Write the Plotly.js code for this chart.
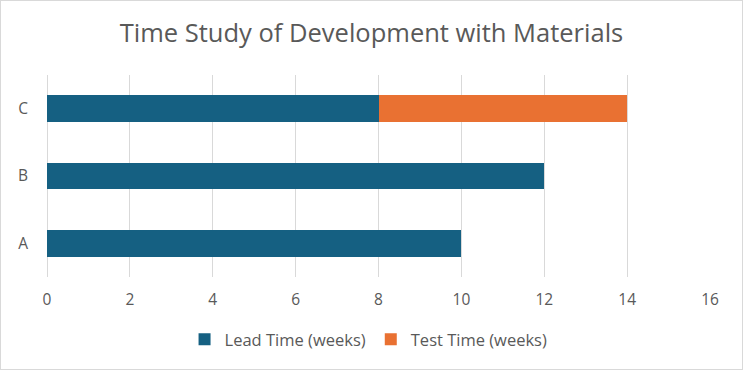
<!DOCTYPE html>
<html>
<head>
<meta charset="utf-8">
<script src="https://cdn.plot.ly/plotly-3.0.1.min.js"></script>
<style>
html,body{margin:0;padding:0;background:#fff;}
#wrap{position:relative;width:743px;height:370px;}
#chart{position:absolute;left:0;top:0;width:743px;height:370px;}
#frame{position:absolute;left:0;top:0;width:743px;height:370px;box-sizing:border-box;border:1px solid #d9d9d9;pointer-events:none;}
</style>
</head>
<body>
<div id="wrap"><div id="chart"></div><div id="frame"></div></div>
<script>
const categories = ["A", "B", "C"];
const leadTime = [10, 12, 8];
const testTime = [0, 0, 6];
const xTicks = [0, 2, 4, 6, 8, 10, 12, 14, 16];

const font = "Open Sans, Arial, sans-serif";
const gray = "#595959";

const data = [
  {type: "bar", orientation: "h", name: "Lead Time (weeks)", y: categories, x: leadTime,
   marker: {color: "#156082"}, hoverinfo: "x+y"},
  {type: "bar", orientation: "h", name: "Test Time (weeks)", y: categories, x: testTime,
   marker: {color: "#E97132"}, hoverinfo: "x+y"}
];

const layout = {
  width: 743, height: 370,
  margin: {l: 47, r: 33, t: 75, b: 93},
  barmode: "stack",
  bargap: 0.605,
  paper_bgcolor: "#fff", plot_bgcolor: "#fff",
  title: {text: "Time Study of Development with Materials", x: 0.5, xanchor: "center",
          y: 0.91, yanchor: "middle", yref: "container",
          font: {family: font, size: 25.5, color: gray}},
  xaxis: {range: [0, 16], tickvals: xTicks, ticktext: xTicks.map(String),
          showgrid: true, gridcolor: "#d9d9d9", gridwidth: 1,
          zeroline: true, zerolinecolor: "#d9d9d9", zerolinewidth: 1,
          showline: false, ticks: "", ticklabelstandoff: 11,
          tickfont: {family: font, size: 15.5, color: gray}, fixedrange: true},
  yaxis: {categoryorder: "array", categoryarray: categories,
          showgrid: false, zeroline: false, showline: false, ticks: "",
          ticklabelstandoff: 18,
          tickfont: {family: font, size: 15.5, color: gray}, fixedrange: true},
  legend: {orientation: "h", x: 0.485, xanchor: "center", y: -0.31, yanchor: "middle",
           font: {family: font, size: 16.5, color: gray}, traceorder: "normal",
           itemwidth: 30},
  showlegend: true
};

Plotly.newPlot("chart", data, layout, {displayModeBar: false, staticPlot: true});
</script>
</body>
</html>
